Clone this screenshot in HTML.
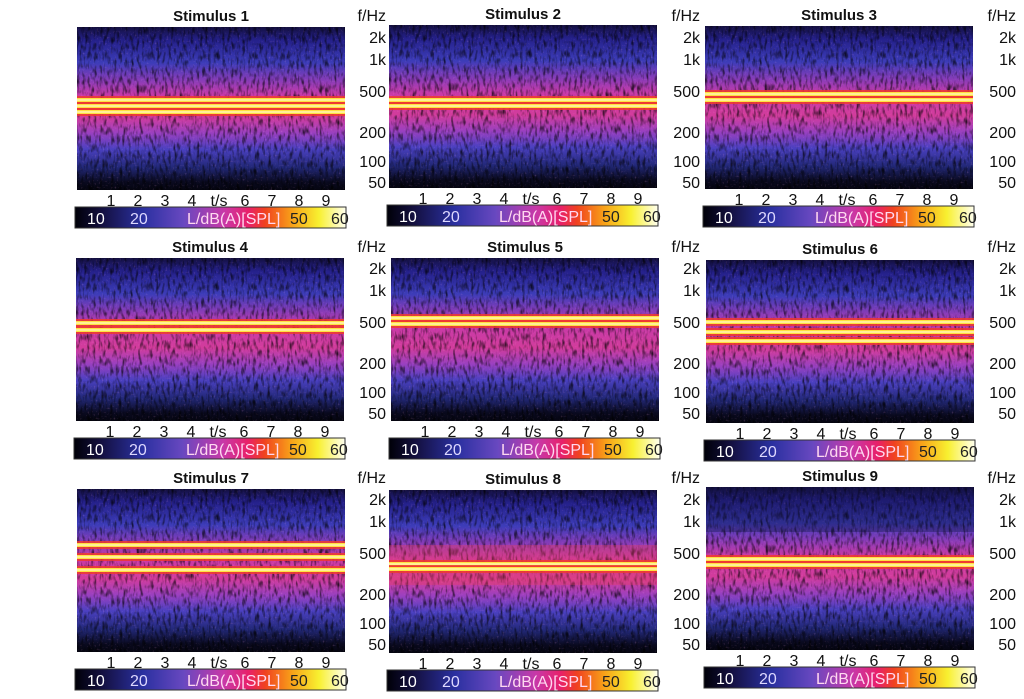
<!DOCTYPE html>
<html><head><meta charset="utf-8"><style>
html,body{margin:0;padding:0;background:#fff;}
svg{display:block;font-family:"Liberation Sans",Arial,sans-serif;}
.t{font-weight:bold;font-size:15px;text-anchor:middle;fill:#111}
.ax{font-size:16px;fill:#111}
.xt text{text-anchor:middle}
.fr{font-size:16px;fill:#111;text-anchor:end}
</style></head><body>
<svg width="1024" height="699" viewBox="0 0 1024 699">
<defs>
<linearGradient id="bg" x1="0" y1="0" x2="0" y2="1">
<stop offset="0" stop-color="#141040"/>
<stop offset="0.08" stop-color="#24208a"/>
<stop offset="0.22" stop-color="#3c3cb8"/>
<stop offset="0.33" stop-color="#8a3cb8"/>
<stop offset="0.42" stop-color="#c83aa8"/>
<stop offset="0.55" stop-color="#d23c9c"/>
<stop offset="0.65" stop-color="#9a40c0"/>
<stop offset="0.75" stop-color="#4a40c0"/>
<stop offset="0.86" stop-color="#222878"/>
<stop offset="0.95" stop-color="#0a0a20"/>
<stop offset="1" stop-color="#050510"/>
</linearGradient>
<linearGradient id="cbg" x1="0" y1="0" x2="1" y2="0">
<stop offset="0" stop-color="#000008"/>
<stop offset="0.1" stop-color="#141040"/>
<stop offset="0.25" stop-color="#2a30a0"/>
<stop offset="0.4" stop-color="#6848c0"/>
<stop offset="0.55" stop-color="#c838a8"/>
<stop offset="0.64" stop-color="#e8206a"/>
<stop offset="0.7" stop-color="#f04020"/>
<stop offset="0.8" stop-color="#f8a018"/>
<stop offset="0.9" stop-color="#f8f030"/>
<stop offset="1" stop-color="#fffff0"/>
</linearGradient>
<filter id="nz" x="0" y="0" width="100%" height="100%">
<feTurbulence type="fractalNoise" baseFrequency="0.35 0.12" numOctaves="2" seed="3"/>
<feColorMatrix values="0 0 0 0 0  0 0 0 0 0  0 0 0 0 0  2.4 0 0 0 -1.1"/>
</filter>
<filter id="nz2" x="0" y="0" width="100%" height="100%">
<feTurbulence type="fractalNoise" baseFrequency="0.5 0.5" numOctaves="1" seed="7"/>
<feColorMatrix values="0 0 0 0 1  0 0 0 0 0.4  0 0 0 0 0.8  2.2 0 0 0 -1.3"/>
</filter>
<g id="spec">
<rect width="268" height="163" fill="url(#bg)"/>
<rect width="268" height="163" filter="url(#nz2)" opacity="0.35"/>
<rect width="268" height="163" filter="url(#nz)" opacity="0.75"/>
</g>
<g id="band">
<rect x="0" y="-4" width="268" height="8" fill="#f03a30" opacity="0.85"/>
<rect x="0" y="-2" width="268" height="4" fill="#ffe040"/>
<rect x="0" y="-0.6" width="268" height="1.2" fill="#fffbd0"/>
</g>
<g id="cbar">
<rect x="-2" y="180" width="271" height="21" fill="url(#cbg)" stroke="#333" stroke-width="1"/>
</g>
<g id="lab">
<g class="xt">
<text x="34" y="179">1</text><text x="61" y="179">2</text><text x="88" y="179">3</text><text x="115" y="179">4</text><text x="142" y="179">t/s</text><text x="168" y="179">6</text><text x="195" y="179">7</text><text x="222" y="179">8</text><text x="249" y="179">9</text>
</g>
<text x="10" y="197" fill="#fff">10</text><text x="53" y="197" fill="#ddd8ff">20</text><text x="110" y="197" fill="#ffd8f0">L/dB(A)[SPL]</text><text x="213" y="197" fill="#222">50</text><text x="254" y="197" fill="#222">60</text>
</g>
<g id="flab">
<text x="0" y="-6">f/Hz</text><text x="0" y="16">2k</text><text x="0" y="38">1k</text><text x="0" y="70">500</text><text x="0" y="111">200</text><text x="0" y="140">100</text><text x="0" y="161">50</text>
</g>
</defs>

<g transform="translate(77,27)">
<use href="#spec"/>
<use href="#band" y="73"/><use href="#band" y="79"/><use href="#band" y="85"/>
<text class="t" x="134" y="-6">Stimulus 1</text>
<use href="#cbar"/>
</g>
<g transform="translate(389,25)">
<use href="#spec"/>
<use href="#band" y="75"/><use href="#band" y="81"/>
<text class="t" x="134" y="-6">Stimulus 2</text>
<use href="#cbar"/>
</g>
<g transform="translate(705,26)">
<use href="#spec"/>
<use href="#band" y="68"/><use href="#band" y="74"/>
<text class="t" x="134" y="-6">Stimulus 3</text>
<use href="#cbar"/>
</g>
<g transform="translate(76,258)">
<use href="#spec"/>
<use href="#band" y="65"/><use href="#band" y="72"/>
<text class="t" x="134" y="-6">Stimulus 4</text>
<use href="#cbar"/>
</g>
<g transform="translate(391,258)">
<use href="#spec"/>
<use href="#band" y="60"/><use href="#band" y="66"/>
<text class="t" x="134" y="-6">Stimulus 5</text>
<use href="#cbar"/>
</g>
<g transform="translate(706,260)">
<use href="#spec"/>
<use href="#band" y="62"/><use href="#band" y="72"/><use href="#band" y="81"/>
<text class="t" x="134" y="-6">Stimulus 6</text>
<use href="#cbar"/>
</g>
<g transform="translate(77,489)">
<use href="#spec"/>
<use href="#band" y="56"/><use href="#band" y="68"/><use href="#band" y="81"/>
<text class="t" x="134" y="-6">Stimulus 7</text>
<use href="#cbar"/>
</g>
<g transform="translate(389,490)">
<use href="#spec"/>
<rect x="0" y="55" width="268" height="40" fill="#e84060" opacity="0.35"/>
<use href="#band" y="74"/><use href="#band" y="79"/>
<text class="t" x="134" y="-6">Stimulus 8</text>
<use href="#cbar"/>
</g>
<g transform="translate(706,487)">
<use href="#spec"/>
<rect x="0" y="0" width="268" height="45" fill="#101040" opacity="0.35"/>
<use href="#band" y="72"/><use href="#band" y="78"/>
<text class="t" x="134" y="-6">Stimulus 9</text>
<use href="#cbar"/>
</g>

<g class="ax">
<use href="#lab" transform="translate(77,27)"/>
<use href="#lab" transform="translate(389,25)"/>
<use href="#lab" transform="translate(705,26)"/>
<use href="#lab" transform="translate(76,258)"/>
<use href="#lab" transform="translate(391,258)"/>
<use href="#lab" transform="translate(706,260)"/>
<use href="#lab" transform="translate(77,489)"/>
<use href="#lab" transform="translate(389,490)"/>
<use href="#lab" transform="translate(706,487)"/>
</g>
<g class="fr">
<use href="#flab" transform="translate(386,27)"/>
<use href="#flab" transform="translate(700,27)"/>
<use href="#flab" transform="translate(1016,27)"/>
<use href="#flab" transform="translate(386,258)"/>
<use href="#flab" transform="translate(700,258)"/>
<use href="#flab" transform="translate(1016,258)"/>
<use href="#flab" transform="translate(386,489)"/>
<use href="#flab" transform="translate(700,489)"/>
<use href="#flab" transform="translate(1016,489)"/>
</g>
</svg>
</body></html>
